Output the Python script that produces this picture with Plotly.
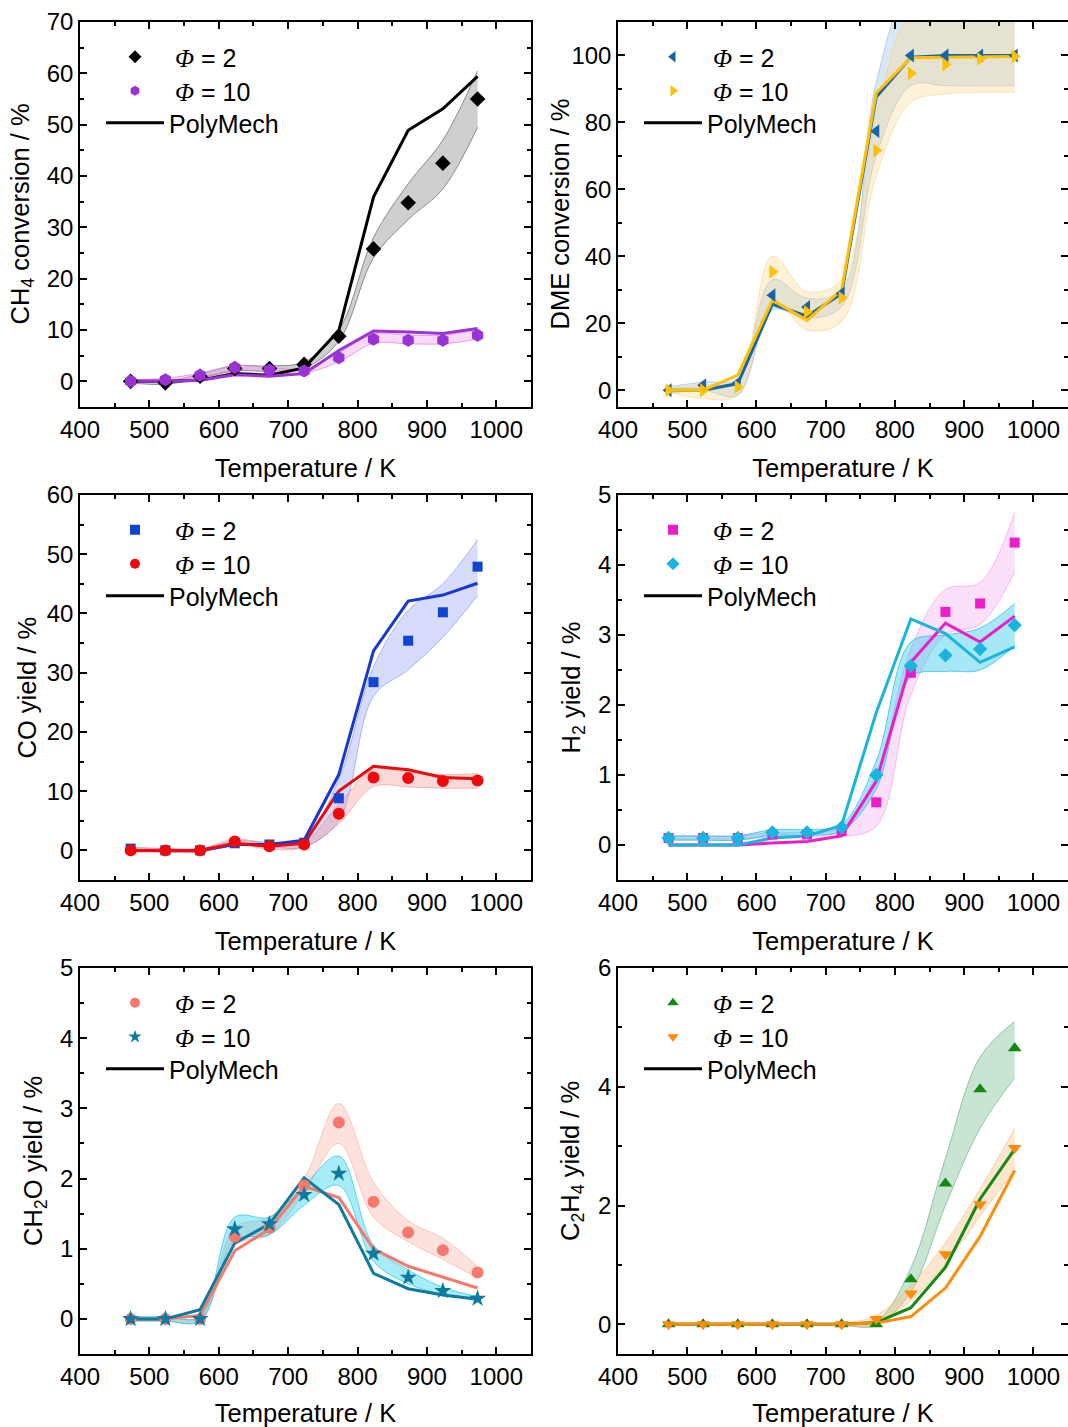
import plotly.graph_objects as go

# Reactor temperatures (K)
temperature = [473, 523, 573, 623, 673, 723, 773, 823, 873, 923, 973]

# --- CH4 conversion / % ---
ch4_phi2 = [0.0, -0.3, 1.0, 2.5, 2.5, 3.3, 8.8, 25.8, 34.8, 42.5, 55.0]
ch4_phi2_lo = [-0.3, -0.6, 0.6, 2.0, 2.0, 2.6, 7.8, 24.0, 31.5, 37.5, 49.5]
ch4_phi2_hi = [0.3, 0.0, 1.4, 3.0, 3.0, 3.8, 10.0, 28.0, 38.5, 47.0, 60.5]
ch4_phi10 = [0.0, 0.3, 1.2, 2.7, 2.2, 2.0, 4.6, 8.2, 8.0, 8.0, 9.0]
ch4_phi10_lo = [-0.3, 0.0, 0.8, 2.2, 1.8, 1.6, 3.8, 7.4, 7.3, 7.3, 8.2]
ch4_phi10_hi = [0.3, 0.6, 1.6, 3.1, 2.7, 2.5, 5.6, 9.2, 9.0, 9.0, 10.0]
ch4_model2 = [0.0, 0.0, 0.2, 1.5, 1.2, 2.6, 9.9, 35.9, 48.9, 53.1, 59.4]
ch4_model10 = [0.0, 0.0, 0.2, 1.3, 1.0, 1.5, 6.0, 9.8, 9.6, 9.3, 10.3]

# --- DME conversion / % ---
dme_phi2 = [0.0, 1.5, 2.2, 28.4, 24.9, 28.9, 77.4, 100.0, 100.0, 100.0, 100.0]
dme_phi2_lo = [-1.0, 0.0, -1.5, 24.0, 21.5, 25.0, 70.0, 91.0, 91.0, 91.0, 91.0]
dme_phi2_hi = [1.0, 2.5, 3.5, 33.0, 27.5, 30.0, 92.0, 120.0, 120.0, 120.0, 120.0]
dme_phi10 = [0.0, 0.0, 1.0, 35.4, 23.4, 27.6, 71.6, 94.7, 97.3, 99.0, 99.7]
dme_phi10_lo = [-0.5, -2.5, -1.5, 27.0, 18.0, 20.5, 64.0, 86.0, 88.5, 89.0, 89.0]
dme_phi10_hi = [0.5, 1.5, 3.0, 40.0, 29.5, 33.0, 82.0, 112.0, 112.0, 112.0, 112.0]
dme_model2 = [0.0, 0.0, 2.0, 25.7, 22.1, 28.9, 87.6, 99.5, 100.0, 100.0, 100.0]
dme_model10 = [0.0, 0.0, 4.5, 26.9, 20.9, 30.0, 88.8, 99.3, 99.5, 99.5, 99.7]

# --- CO yield / % ---
co_phi2 = [0.3, 0.0, 0.0, 1.2, 1.0, 1.3, 8.8, 28.4, 35.4, 40.2, 47.9]
co_phi2_lo = [0.0, -0.3, -0.3, 0.8, 0.6, 0.6, 5.0, 26.0, 30.5, 36.0, 43.0]
co_phi2_hi = [0.6, 0.3, 0.3, 1.6, 1.4, 2.0, 12.0, 31.0, 40.5, 45.0, 52.5]
co_phi10 = [0.0, 0.0, 0.0, 1.5, 0.7, 1.0, 6.2, 12.3, 12.2, 11.7, 11.8]
co_phi10_lo = [-0.3, -0.3, -0.3, 1.0, 0.2, 0.5, 4.5, 10.8, 10.7, 10.5, 10.5]
co_phi10_hi = [0.3, 0.3, 0.3, 1.9, 1.2, 1.5, 7.8, 13.6, 13.2, 12.8, 13.0]
co_model2 = [0.0, 0.0, 0.0, 1.0, 1.0, 1.7, 12.8, 33.7, 42.1, 43.1, 45.1]
co_model10 = [0.0, 0.0, 0.0, 1.2, 0.7, 1.2, 10.0, 14.2, 13.6, 12.3, 12.1]

# --- H2 yield / % ---
h2_phi2 = [0.10, 0.10, 0.10, 0.15, 0.15, 0.20, 0.61, 2.46, 3.33, 3.45, 4.32]
h2_phi2_lo = [0.07, 0.07, 0.07, 0.12, 0.12, 0.12, 0.27, 2.15, 3.00, 3.15, 3.90]
h2_phi2_hi = [0.13, 0.13, 0.13, 0.18, 0.18, 0.26, 1.00, 2.80, 3.65, 3.75, 4.75]
h2_phi10 = [0.10, 0.10, 0.10, 0.18, 0.18, 0.25, 1.00, 2.56, 2.71, 2.80, 3.14]
h2_phi10_lo = [0.07, 0.07, 0.07, 0.14, 0.14, 0.20, 0.80, 2.40, 2.48, 2.50, 2.85]
h2_phi10_hi = [0.13, 0.13, 0.13, 0.22, 0.22, 0.30, 1.20, 2.90, 3.00, 3.10, 3.45]
h2_model2 = [0.0, 0.0, 0.0, 0.03, 0.05, 0.13, 0.91, 2.61, 3.17, 2.90, 3.27]
h2_model10 = [0.0, 0.0, 0.0, 0.10, 0.13, 0.28, 1.89, 3.23, 3.02, 2.61, 2.83]

# --- CH2O yield / % ---
ch2o_phi2 = [0.0, 0.0, 0.0, 1.17, 1.30, 1.90, 2.80, 1.67, 1.23, 0.98, 0.66]
ch2o_phi2_lo = [-0.03, -0.03, -0.03, 1.05, 1.20, 1.80, 2.50, 1.45, 1.10, 0.85, 0.58]
ch2o_phi2_hi = [0.03, 0.03, 0.03, 1.30, 1.45, 2.00, 3.07, 1.95, 1.40, 1.15, 0.75]
ch2o_phi10 = [0.0, 0.0, 0.0, 1.28, 1.35, 1.77, 2.07, 0.93, 0.59, 0.40, 0.29]
ch2o_phi10_lo = [-0.03, -0.03, -0.03, 1.12, 1.20, 1.62, 1.90, 0.82, 0.50, 0.35, 0.27]
ch2o_phi10_hi = [0.03, 0.03, 0.03, 1.45, 1.45, 1.90, 2.32, 1.05, 0.70, 0.45, 0.32]
ch2o_model2 = [0.0, 0.0, 0.05, 0.97, 1.28, 1.89, 1.73, 1.00, 0.75, 0.60, 0.44]
ch2o_model10 = [0.0, 0.0, 0.13, 1.08, 1.35, 2.01, 1.63, 0.65, 0.43, 0.34, 0.28]

# --- C2H4 yield / % ---
c2h4_phi2 = [0.0, 0.0, 0.0, 0.0, 0.0, 0.0, 0.0, 0.76, 2.37, 3.96, 4.65]
c2h4_phi2_lo = [-0.02, -0.02, -0.02, -0.02, -0.02, -0.02, -0.02, 0.55, 2.00, 3.30, 4.15]
c2h4_phi2_hi = [0.02, 0.02, 0.02, 0.02, 0.02, 0.02, 0.05, 0.95, 2.80, 4.50, 5.10]
c2h4_phi10 = [0.0, 0.0, 0.0, 0.0, 0.0, 0.0, 0.09, 0.52, 1.18, 2.02, 2.97]
c2h4_phi10_lo = [-0.02, -0.02, -0.02, -0.02, -0.02, -0.02, 0.00, 0.40, 1.02, 1.82, 2.60]
c2h4_phi10_hi = [0.02, 0.02, 0.02, 0.02, 0.02, 0.02, 0.15, 0.65, 1.38, 2.28, 3.30]
c2h4_model2 = [0.0, 0.0, 0.0, 0.0, 0.0, 0.0, 0.03, 0.28, 0.96, 2.11, 2.95]
c2h4_model10 = [0.0, 0.0, 0.0, 0.0, 0.0, 0.0, 0.02, 0.13, 0.61, 1.48, 2.59]

# Axis titles, ranges and tick steps
y_titles = ["CH<sub>4</sub> conversion / %", "DME conversion / %",
            "CO yield / %", "H<sub>2</sub> yield / %",
            "CH<sub>2</sub>O yield / %", "C<sub>2</sub>H<sub>4</sub> yield / %"]
y_ranges = [[-5, 70], [-5, 110], [-5, 60], [-0.5, 5], [-0.5, 5], [-0.5, 6]]
y_dticks = [10, 20, 10, 1, 1, 2]
x_title = "Temperature / K"
x_range = [400, 1050]
legend_labels = ["2", "10"]
model_label = "PolyMech"

FONT = "Liberation Sans"
PHI = "<span style=\"font-family:'Liberation Serif';font-style:italic\">Φ</span>"

panels = [
    dict(data=(ch4_phi2, ch4_phi2_lo, ch4_phi2_hi, ch4_phi10, ch4_phi10_lo, ch4_phi10_hi, ch4_model2, ch4_model10),
         colors=("#000000", "#9b32d6"), line_colors=("#000000", "#9b32d6"),
         fills=("rgba(160,160,160,0.5)", "rgba(240,170,240,0.45)"),
         edges=("rgba(90,90,90,0.8)", "rgba(215,120,215,0.8)"),
         symbols=("diamond", "hexagon"), sizes=(12, 13)),
    dict(data=(dme_phi2, dme_phi2_lo, dme_phi2_hi, dme_phi10, dme_phi10_lo, dme_phi10_hi, dme_model2, dme_model10),
         colors=("#1765a8", "#ffc000"), line_colors=("#1765a8", "#ffc000"),
         fills=("rgba(150,190,230,0.35)", "rgba(252,215,140,0.35)"),
         edges=("rgba(110,155,205,0.5)", "rgba(245,205,120,0.6)"),
         symbols=("triangle-left", "triangle-right"), sizes=(12, 12)),
    dict(data=(co_phi2, co_phi2_lo, co_phi2_hi, co_phi10, co_phi10_lo, co_phi10_hi, co_model2, co_model10),
         colors=("#1144d0", "#ee0a0a"), line_colors=("#1538d2", "#ee0a0a"),
         fills=("rgba(135,150,245,0.33)", "rgba(245,140,140,0.33)"),
         edges=("rgba(100,120,230,0.6)", "rgba(240,120,120,0.6)"),
         symbols=("square", "circle"), sizes=(10, 12)),
    dict(data=(h2_phi2, h2_phi2_lo, h2_phi2_hi, h2_phi10, h2_phi10_lo, h2_phi10_hi, h2_model2, h2_model10),
         colors=("#ee1cc8", "#19b4e0"), line_colors=("#ee1cc8", "#19b4e0"),
         fills=("rgba(246,165,238,0.35)", "rgba(60,205,238,0.45)"),
         edges=("rgba(240,120,225,0.6)", "rgba(20,180,225,0.8)"),
         symbols=("square", "diamond"), sizes=(10, 11)),
    dict(data=(ch2o_phi2, ch2o_phi2_lo, ch2o_phi2_hi, ch2o_phi10, ch2o_phi10_lo, ch2o_phi10_hi, ch2o_model2, ch2o_model10),
         colors=("#f8786c", "#0c7b9f"), line_colors=("#f8786c", "#0c7b9f"),
         fills=("rgba(250,180,170,0.4)", "rgba(60,212,242,0.45)"),
         edges=("rgba(245,150,140,0.6)", "rgba(20,190,230,0.8)"),
         symbols=("circle", "star"), sizes=(12, 13)),
    dict(data=(c2h4_phi2, c2h4_phi2_lo, c2h4_phi2_hi, c2h4_phi10, c2h4_phi10_lo, c2h4_phi10_hi, c2h4_model2, c2h4_model10),
         colors=("#138a13", "#ff8c0a"), line_colors=("#138a13", "#ff8c0a"),
         fills=("rgba(110,185,140,0.38)", "rgba(253,195,140,0.42)"),
         edges=("rgba(60,150,100,0.6)", "rgba(250,170,100,0.6)"),
         symbols=("triangle-up", "triangle-down"), sizes=(12, 12)),
]

W, H = 1068, 1427
# plot-area pixel boxes (left, right, top, bottom)
col_px = [(80, 531), (618, 1068)]
row_px = [(22, 407), (495, 880), (968, 1354)]
# horizontal centre of each rotated y title (px)
y_title_px = [22, 560, 26, 572, 35, 572]
# legend rows below the plot top (px) and symbol centre right of the plot edge (px)
legend_row_px = [35, 69, 101]
legend_symbol_px = 55

fig = go.Figure()
layout = dict(width=W, height=H, margin=dict(l=0, r=0, t=0, b=0, autoexpand=False),
              paper_bgcolor="white", plot_bgcolor="white", showlegend=True,
              font=dict(family=FONT, size=24, color="black"))
annotations = []


def legend_box(name, x_px, y_px, item_w):
    layout[name] = dict(x=x_px / W, y=1 - y_px / H, xanchor="left", yanchor="middle",
                        bgcolor="rgba(0,0,0,0)", borderwidth=0, tracegroupgap=0,
                        traceorder="normal", itemwidth=item_w,
                        font=dict(family=FONT, size=25, color="black"))


for i, p in enumerate(panels):
    r, c = divmod(i, 2)
    sfx = "" if i == 0 else str(i + 1)
    xa, ya = "x" + sfx, "y" + sfx
    legs = ["legend" + ("" if 3 * i + k == 0 else str(3 * i + k + 1)) for k in range(3)]
    (e2, e2lo, e2hi, e10, e10lo, e10hi, m2, m10) = p["data"]

    # uncertainty bands
    for lo, hi, fc, ec in ((e2lo, e2hi, p["fills"][0], p["edges"][0]),
                           (e10lo, e10hi, p["fills"][1], p["edges"][1])):
        fig.add_trace(go.Scatter(x=temperature, y=lo, mode="lines", xaxis=xa, yaxis=ya,
                                 line=dict(color=ec, width=0.8, shape="spline", smoothing=1.0),
                                 showlegend=False, hoverinfo="skip", legend=legs[2]))
        fig.add_trace(go.Scatter(x=temperature, y=hi, mode="lines", xaxis=xa, yaxis=ya,
                                 fill="tonexty", fillcolor=fc,
                                 line=dict(color=ec, width=0.8, shape="spline", smoothing=1.0),
                                 showlegend=False, hoverinfo="skip", legend=legs[2]))
    # PolyMech model lines
    for m, lc in ((m2, p["line_colors"][0]), (m10, p["line_colors"][1])):
        fig.add_trace(go.Scatter(x=temperature, y=m, mode="lines", xaxis=xa, yaxis=ya,
                                 line=dict(color=lc, width=3), showlegend=False, legend=legs[2]))
    # experimental points
    for e, col, sym, sz in ((e2, p["colors"][0], p["symbols"][0], p["sizes"][0]),
                            (e10, p["colors"][1], p["symbols"][1], p["sizes"][1])):
        fig.add_trace(go.Scatter(x=temperature, y=e, mode="markers", xaxis=xa, yaxis=ya,
                                 marker=dict(symbol=sym, size=sz, color=col, line=dict(width=0)),
                                 showlegend=False, legend=legs[2]))

    x0, x1 = col_px[c]
    y0, y1 = row_px[r]

    # legend entries, one legend box per row
    for k, (lab, col, sym) in enumerate(zip(legend_labels, p["colors"], p["symbols"])):
        fig.add_trace(go.Scatter(x=[None], y=[None], mode="markers", xaxis=xa, yaxis=ya,
                                 marker=dict(symbol=sym, size=10, color=col),
                                 name=f"{PHI} = {lab}", legend=legs[k]))
        legend_box(legs[k], x0 + legend_symbol_px - 40, y0 + legend_row_px[k], 70)
    fig.add_trace(go.Scatter(x=[None], y=[None], mode="lines", xaxis=xa, yaxis=ya,
                             line=dict(color="black", width=3), name=model_label, legend=legs[2]))
    legend_box(legs[2], x0 + legend_symbol_px - 34, y0 + legend_row_px[2], 58)

    axis_common = dict(showline=True, linecolor="black", linewidth=1.5, mirror="ticks",
                       ticks="inside", ticklen=7, tickwidth=1.5, tickcolor="black",
                       showgrid=False, zeroline=False, automargin=False,
                       tickfont=dict(family=FONT, size=24, color="black"))
    layout["xaxis" + sfx] = dict(axis_common, domain=[x0 / W, min(x1 / W, 1.0)], range=x_range,
                                 dtick=100, tick0=0, anchor=ya,
                                 minor=dict(ticks="inside", ticklen=4, tickwidth=1.5, dtick=50, tickcolor="black"),
                                 title=dict(text=x_title, font=dict(family=FONT, size=25.5), standoff=18))
    layout["yaxis" + sfx] = dict(axis_common, domain=[1 - y1 / H, 1 - y0 / H], range=y_ranges[i],
                                 dtick=y_dticks[i], tick0=0, anchor=xa,
                                 minor=dict(ticks="inside", ticklen=4, tickwidth=1.5,
                                            dtick=y_dticks[i] / 2, tickcolor="black"))
    annotations.append(dict(text=y_titles[i], textangle=-90, xref="paper", yref="paper",
                            x=y_title_px[i] / W, y=1 - (y0 + y1) / 2 / H,
                            xanchor="center", yanchor="middle", showarrow=False,
                            font=dict(family=FONT, size=25.5, color="black")))

layout["annotations"] = annotations
fig.update_layout(**layout)
fig.write_html("out.html")
